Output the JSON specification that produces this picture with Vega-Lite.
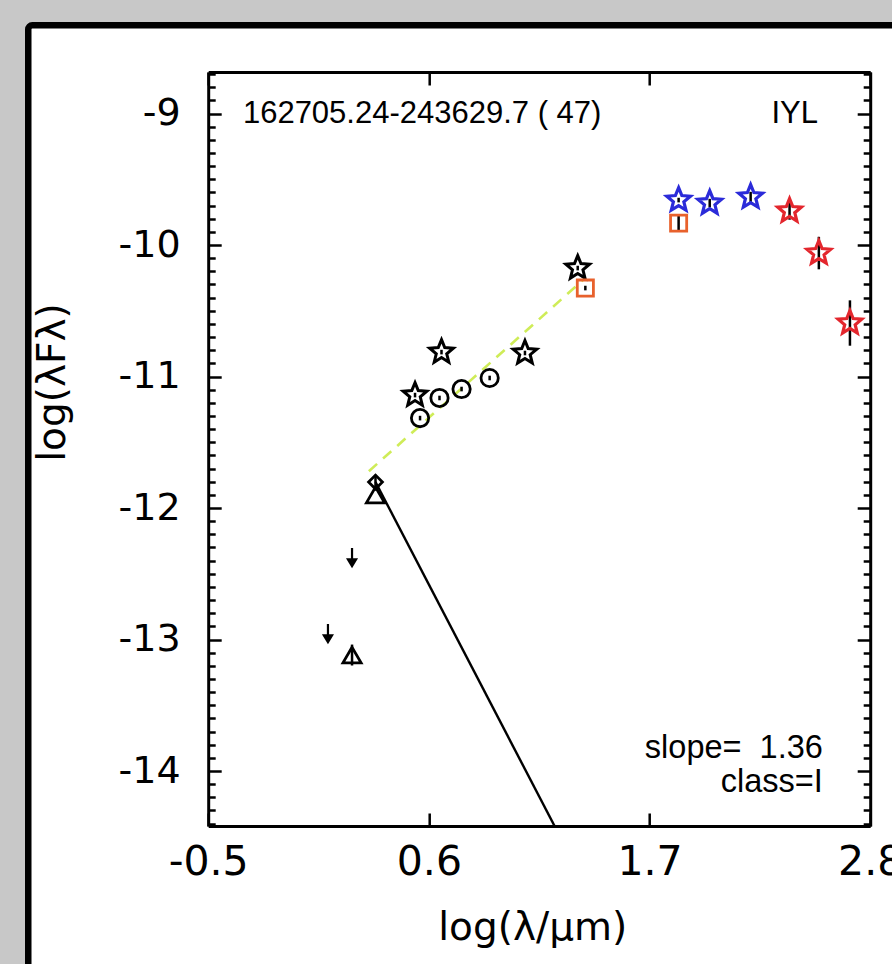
{
  "$schema": "https://vega.github.io/schema/vega-lite/v6.json",
  "width": 662,
  "height": 754,
  "autosize": "none",
  "padding": {"left": 208.2, "top": 72, "right": 21.8, "bottom": 138},
  "background": "#c8c8c8",
  "config": {
    "view": {"stroke": null},
    "font": "Liberation Sans",
    "axis": {
      "grid": false,
      "domainColor": "black",
      "domainWidth": 3,
      "tickColor": "black",
      "tickWidth": 2.5,
      "labelColor": "black",
      "labelFont": "DejaVu Sans",
      "labelFontSize": 39,
      "titleFont": "DejaVu Sans",
      "titleFontSize": 39,
      "titleFontWeight": "normal",
      "titleColor": "black",
      "labelOverlap": false,
      "labelFlush": false
    }
  },
  "datasets": {
    "photo": [
      {"band": "W1", "kind": "WISE", "x": 0.531, "y": -11.141, "lo": -11.149, "hi": -11.133},
      {"band": "W2", "kind": "WISE", "x": 0.663, "y": -10.814, "lo": -10.822, "hi": -10.806},
      {"band": "W3", "kind": "WISE", "x": 1.079, "y": -10.821, "lo": -10.829, "hi": -10.813},
      {"band": "W4", "kind": "WISE", "x": 1.342, "y": -10.175, "lo": -10.183, "hi": -10.167},
      {"band": "I1", "kind": "IRAC", "x": 0.556, "y": -11.316, "lo": -11.324, "hi": -11.308},
      {"band": "I2", "kind": "IRAC", "x": 0.653, "y": -11.163, "lo": -11.171, "hi": -11.155},
      {"band": "I3", "kind": "IRAC", "x": 0.763, "y": -11.095, "lo": -11.103, "hi": -11.087},
      {"band": "I4", "kind": "IRAC", "x": 0.903, "y": -11.011, "lo": -11.019, "hi": -11.003},
      {"band": "M24", "kind": "MIPS", "x": 1.380, "y": -10.327, "lo": -10.335, "hi": -10.319},
      {"band": "M70", "kind": "MIPS", "x": 1.845, "y": -9.833, "lo": -9.886, "hi": -9.780},
      {"band": "P70", "kind": "PACS", "x": 1.845, "y": -9.658, "lo": -9.666, "hi": -9.650},
      {"band": "P100", "kind": "PACS", "x": 2.0, "y": -9.681, "lo": -9.704, "hi": -9.658},
      {"band": "P160", "kind": "PACS", "x": 2.204, "y": -9.635, "lo": -9.665, "hi": -9.605},
      {"band": "S250", "kind": "SPIRE", "x": 2.398, "y": -9.741, "lo": -9.798, "hi": -9.684},
      {"band": "S350", "kind": "SPIRE", "x": 2.544, "y": -10.061, "lo": -10.175, "hi": -9.947},
      {"band": "S500", "kind": "SPIRE", "x": 2.699, "y": -10.593, "lo": -10.756, "hi": -10.430},
      {"band": "K", "kind": "2MASS", "x": 0.334, "y": -11.802, "lo": -11.847, "hi": -11.757},
      {"band": "K", "kind": "2MASS-b", "x": 0.334, "y": -11.901},
      {"band": "H", "kind": "2MASS-b", "x": 0.217, "y": -13.118, "lo": -13.188, "hi": -13.048},
      {"band": "H", "kind": "limit", "x": 0.217, "y": -12.373},
      {"band": "J", "kind": "limit", "x": 0.097, "y": -12.951}
    ],
    "fit": [
      {"x": 0.301, "y": -11.72},
      {"x": 1.380, "y": -10.25}
    ],
    "star": [
      {"x": 0.334, "y": -11.802},
      {"x": 1.35, "y": -14.78}
    ]
  },
  "resolve": {"axis": {"x": "independent", "y": "independent"}},
  "layer": [
    {
      "data": {"values": [{}]},
      "mark": {"type": "rect", "fill": "white", "stroke": "black", "strokeWidth": 6.5, "cornerRadius": 4},
      "encoding": {
        "x": {"datum": -1.397, "type": "quantitative", "scale": {"domain": [-0.5, 2.8], "nice": false, "zero": false}, "axis": null},
        "x2": {"datum": 3.5},
        "y": {"datum": -8.3285, "type": "quantitative", "scale": {"domain": [-14.418, -8.684], "nice": false, "zero": false}, "axis": null},
        "y2": {"datum": -16}
      }
    },
    {
      "data": {"name": "fit"},
      "mark": {"type": "line", "color": "#cfec58", "strokeWidth": 2.6, "strokeDash": [11, 8]},
      "encoding": {
        "x": {
          "field": "x", "type": "quantitative",
          "scale": {"domain": [-0.5, 2.8], "nice": false, "zero": false},
          "axis": {
            "orient": "bottom",
            "zindex": 2,
            "values": [-0.5, 0.6, 1.7, 2.8],
            "labelExpr": "'' + datum.value",
            "labelFontSize": 41,
            "tickSize": -13,
            "labelPadding": 29,
            "title": "log(λ/μm)",
            "titlePadding": 26,
            "titleX": 324
          }
        },
        "y": {
          "field": "y", "type": "quantitative",
          "scale": {"domain": [-14.418, -8.684], "nice": false, "zero": false},
          "axis": {
            "orient": "left",
            "zindex": 2,
            "values": [-14.4, -14.3, -14.2, -14.1, -13.9, -13.8, -13.7, -13.6, -13.5, -13.4, -13.3, -13.2, -13.1, -12.9, -12.8, -12.7, -12.6, -12.5, -12.4, -12.3, -12.2, -12.1, -11.9, -11.8, -11.7, -11.6, -11.5, -11.4, -11.3, -11.2, -11.1, -10.9, -10.8, -10.7, -10.6, -10.5, -10.4, -10.3, -10.2, -10.1, -9.9, -9.8, -9.7, -9.6, -9.5, -9.4, -9.3, -9.2, -9.1, -8.9, -8.8, -8.7],
            "labels": false, "title": null, "domain": false, "tickSize": -7
          }
        }
      }
    },
    {
      "data": {"name": "star"},
      "mark": {"type": "line", "color": "black", "strokeWidth": 2.4, "clip": true},
      "encoding": {
        "x": {
          "field": "x", "type": "quantitative",
          "scale": {"domain": [-0.5, 2.8], "nice": false, "zero": false},
          "axis": {
            "orient": "top",
            "zindex": 2,
            "values": [-0.5, 0.6, 1.7, 2.8],
            "labels": false,
            "title": null,
            "tickSize": -13
          }
        },
        "y": {
          "field": "y", "type": "quantitative",
          "scale": {"domain": [-14.418, -8.684], "nice": false, "zero": false},
          "axis": {
            "orient": "right",
            "zindex": 2,
            "values": [-14.4, -14.3, -14.2, -14.1, -13.9, -13.8, -13.7, -13.6, -13.5, -13.4, -13.3, -13.2, -13.1, -12.9, -12.8, -12.7, -12.6, -12.5, -12.4, -12.3, -12.2, -12.1, -11.9, -11.8, -11.7, -11.6, -11.5, -11.4, -11.3, -11.2, -11.1, -10.9, -10.8, -10.7, -10.6, -10.5, -10.4, -10.3, -10.2, -10.1, -9.9, -9.8, -9.7, -9.6, -9.5, -9.4, -9.3, -9.2, -9.1, -8.9, -8.8, -8.7],
            "labels": false, "title": null, "domain": false, "tickSize": -7
          }
        }
      }
    },
    {
      "data": {"values": [{}]},
      "mark": {"type": "text", "align": "left", "baseline": "middle", "fontSize": 31, "font": "Liberation Sans", "color": "black"},
      "encoding": {
        "x": {"datum": -0.327, "type": "quantitative", "scale": {"domain": [-0.5, 2.8], "nice": false, "zero": false}, "axis": null},
        "y": {"datum": -9.0, "type": "quantitative", "scale": {"domain": [-14.418, -8.684], "nice": false, "zero": false}, "axis": null},
        "text": {"value": "162705.24-243629.7 ( 47)"}
      }
    },
    {
      "data": {"values": [{}]},
      "mark": {"type": "text", "align": "right", "baseline": "middle", "fontSize": 31, "font": "Liberation Sans", "color": "black"},
      "encoding": {
        "x": {"datum": 2.54, "type": "quantitative", "scale": {"domain": [-0.5, 2.8], "nice": false, "zero": false}, "axis": null},
        "y": {"datum": -9.0, "type": "quantitative", "scale": {"domain": [-14.418, -8.684], "nice": false, "zero": false}, "axis": null},
        "text": {"value": "IYL"}
      }
    },
    {
      "data": {"values": [{}]},
      "mark": {"type": "text", "align": "right", "baseline": "middle", "fontSize": 32.5, "font": "Liberation Sans", "color": "black"},
      "encoding": {
        "x": {"datum": 2.564, "type": "quantitative", "scale": {"domain": [-0.5, 2.8], "nice": false, "zero": false}, "axis": null},
        "y": {"datum": -13.825, "type": "quantitative", "scale": {"domain": [-14.418, -8.684], "nice": false, "zero": false}, "axis": null},
        "text": {"value": "slope=\u00a0 1.36"}
      }
    },
    {
      "data": {"values": [{}]},
      "mark": {"type": "text", "align": "right", "baseline": "middle", "fontSize": 32.5, "font": "Liberation Sans", "color": "black"},
      "encoding": {
        "x": {"datum": 2.564, "type": "quantitative", "scale": {"domain": [-0.5, 2.8], "nice": false, "zero": false}, "axis": null},
        "y": {"datum": -14.08, "type": "quantitative", "scale": {"domain": [-14.418, -8.684], "nice": false, "zero": false}, "axis": null},
        "text": {"value": "class=I"}
      }
    },
    {
      "data": {"name": "photo"},
      "transform": [{"filter": "isValid(datum.lo)"}],
      "mark": {"type": "rule", "color": "black", "strokeWidth": 2.5, "strokeCap": "square"},
      "encoding": {
        "x": {"field": "x", "type": "quantitative", "scale": {"domain": [-0.5, 2.8], "nice": false, "zero": false}, "axis": null},
        "y": {
          "field": "lo", "type": "quantitative",
          "scale": {"domain": [-14.418, -8.684], "nice": false, "zero": false},
          "axis": {
            "orient": "left",
            "zindex": 2,
            "values": [-14, -13, -12, -11, -10, -9],
            "labelExpr": "'' + datum.value",
            "labelFontSize": 38,
            "tickSize": -13,
            "labelPadding": 41,
            "title": "log(λFλ)",
            "titlePadding": 46,
            "titleY": 310
          }
        },
        "y2": {"field": "hi"}
      }
    },
    {
      "data": {"name": "photo"},
      "transform": [{"filter": "datum.kind == 'limit'"}],
      "mark": {"type": "point", "filled": true, "color": "black", "strokeWidth": 2.2, "stroke": "black", "opacity": 1, "shape": "M0,-1V0.4M-0.45,0.25L0,1L0.45,0.25Z", "size": 330},
      "encoding": {
        "x": {"field": "x", "type": "quantitative", "scale": {"domain": [-0.5, 2.8], "nice": false, "zero": false}, "axis": null},
        "y": {
          "field": "y", "type": "quantitative",
          "scale": {"domain": [-14.418, -8.684], "nice": false, "zero": false},
          "axis": {
            "orient": "right",
            "zindex": 2,
            "values": [-14, -13, -12, -11, -10, -9],
            "labels": false,
            "title": null,
            "tickSize": -13
          }
        }
      }
    },
    {
      "data": {"name": "photo"},
      "transform": [{"filter": "datum.kind == 'WISE'"}],
      "mark": {"type": "point", "shape": "M0,-1L0.26,-0.36L0.951,-0.309L0.42,0.137L0.588,0.809L0,0.44L-0.588,0.809L-0.42,0.137L-0.951,-0.309L-0.26,-0.36Z", "filled": false, "color": "black", "strokeWidth": 3, "size": 620, "opacity": 1},
      "encoding": {
        "x": {"field": "x", "type": "quantitative", "scale": {"domain": [-0.5, 2.8], "nice": false, "zero": false}, "axis": null},
        "y": {"field": "y", "type": "quantitative", "scale": {"domain": [-14.418, -8.684], "nice": false, "zero": false}, "axis": null}
      }
    },
    {
      "data": {"name": "photo"},
      "transform": [{"filter": "datum.kind == 'IRAC'"}],
      "mark": {"type": "point", "shape": "circle", "filled": false, "color": "black", "strokeWidth": 2.8, "size": 300, "opacity": 1},
      "encoding": {
        "x": {"field": "x", "type": "quantitative", "scale": {"domain": [-0.5, 2.8], "nice": false, "zero": false}, "axis": null},
        "y": {"field": "y", "type": "quantitative", "scale": {"domain": [-14.418, -8.684], "nice": false, "zero": false}, "axis": null}
      }
    },
    {
      "data": {"name": "photo"},
      "transform": [{"filter": "datum.kind == 'MIPS'"}],
      "mark": {"type": "point", "shape": "square", "filled": false, "color": "#e8612c", "strokeWidth": 2.8, "size": 260, "opacity": 1},
      "encoding": {
        "x": {"field": "x", "type": "quantitative", "scale": {"domain": [-0.5, 2.8], "nice": false, "zero": false}, "axis": null},
        "y": {"field": "y", "type": "quantitative", "scale": {"domain": [-14.418, -8.684], "nice": false, "zero": false}, "axis": null}
      }
    },
    {
      "data": {"name": "photo"},
      "transform": [{"filter": "datum.kind == 'PACS'"}],
      "mark": {"type": "point", "shape": "M0,-1L0.26,-0.36L0.951,-0.309L0.42,0.137L0.588,0.809L0,0.44L-0.588,0.809L-0.42,0.137L-0.951,-0.309L-0.26,-0.36Z", "filled": false, "color": "#2b2bd9", "strokeWidth": 3.2, "size": 620, "opacity": 1},
      "encoding": {
        "x": {"field": "x", "type": "quantitative", "scale": {"domain": [-0.5, 2.8], "nice": false, "zero": false}, "axis": null},
        "y": {"field": "y", "type": "quantitative", "scale": {"domain": [-14.418, -8.684], "nice": false, "zero": false}, "axis": null}
      }
    },
    {
      "data": {"name": "photo"},
      "transform": [{"filter": "datum.kind == 'SPIRE'"}],
      "mark": {"type": "point", "shape": "M0,-1L0.26,-0.36L0.951,-0.309L0.42,0.137L0.588,0.809L0,0.44L-0.588,0.809L-0.42,0.137L-0.951,-0.309L-0.26,-0.36Z", "filled": false, "color": "#e3262d", "strokeWidth": 3.2, "size": 620, "opacity": 1},
      "encoding": {
        "x": {"field": "x", "type": "quantitative", "scale": {"domain": [-0.5, 2.8], "nice": false, "zero": false}, "axis": null},
        "y": {"field": "y", "type": "quantitative", "scale": {"domain": [-14.418, -8.684], "nice": false, "zero": false}, "axis": null}
      }
    },
    {
      "data": {"name": "photo"},
      "transform": [{"filter": "datum.kind == '2MASS'"}],
      "mark": {"type": "point", "shape": "diamond", "filled": false, "color": "black", "strokeWidth": 2.8, "size": 190, "opacity": 1},
      "encoding": {
        "x": {"field": "x", "type": "quantitative", "scale": {"domain": [-0.5, 2.8], "nice": false, "zero": false}, "axis": null},
        "y": {"field": "y", "type": "quantitative", "scale": {"domain": [-14.418, -8.684], "nice": false, "zero": false}, "axis": null}
      }
    },
    {
      "data": {"name": "photo"},
      "transform": [{"filter": "datum.kind == '2MASS-b'"}],
      "mark": {"type": "point", "shape": "triangle-up", "filled": false, "color": "black", "strokeWidth": 2.8, "size": 330, "opacity": 1},
      "encoding": {
        "x": {"field": "x", "type": "quantitative", "scale": {"domain": [-0.5, 2.8], "nice": false, "zero": false}, "axis": null},
        "y": {"field": "y", "type": "quantitative", "scale": {"domain": [-14.418, -8.684], "nice": false, "zero": false}, "axis": null}
      }
    }
  ]
}
